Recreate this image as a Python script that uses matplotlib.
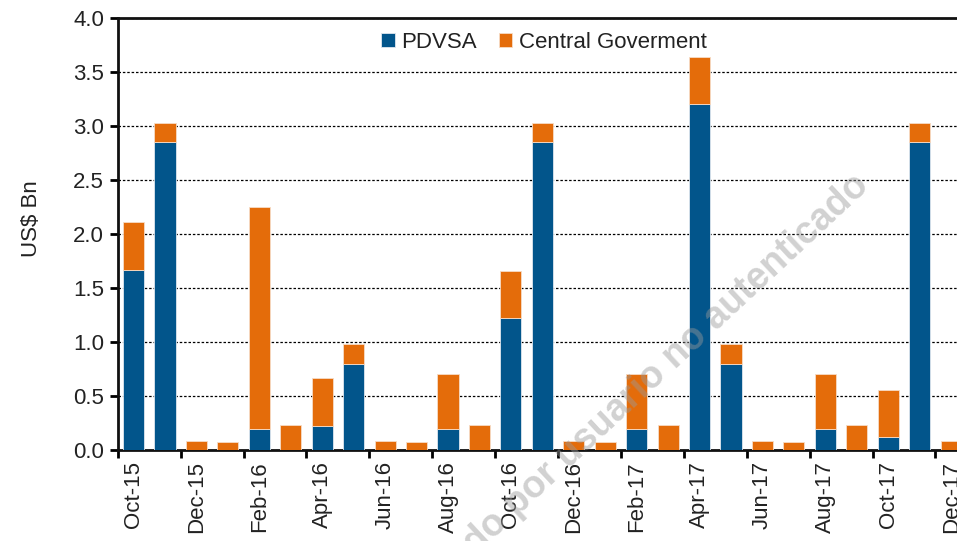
# Stacked monthly bars: PDVSA vs Central Government debt service (US$ Bn)
import numpy as np
from matplotlib import pyplot as plt

plt.rcParams['font.family'] = ['Liberation Sans', 'DejaVu Sans']

months = ["Oct-15", "Nov-15", "Dec-15", "Jan-16", "Feb-16", "Mar-16", "Apr-16",
          "May-16", "Jun-16", "Jul-16", "Aug-16", "Sep-16", "Oct-16", "Nov-16",
          "Dec-16", "Jan-17", "Feb-17", "Mar-17", "Apr-17", "May-17", "Jun-17",
          "Jul-17", "Aug-17", "Sep-17", "Oct-17", "Nov-17", "Dec-17"]
pdvsa = [1.67, 2.85, 0.0, 0.0, 0.19, 0.0, 0.225, 0.80, 0.0, 0.0, 0.19, 0.0,
         1.22, 2.85, 0.0, 0.0, 0.19, 0.0, 3.20, 0.80, 0.0, 0.0, 0.19, 0.0,
         0.12, 2.85, 0.0]
central_gov = [0.44, 0.18, 0.08, 0.07, 2.06, 0.23, 0.44, 0.18, 0.08, 0.07, 0.515, 0.23,
               0.44, 0.18, 0.08, 0.07, 0.515, 0.23, 0.44, 0.18, 0.08, 0.07, 0.515, 0.23,
               0.44, 0.18, 0.08]

blue = "#02558B"
orange = "#E46C0A"

fig = plt.figure(figsize=(9.57, 5.41), dpi=100)
ax = fig.add_axes([0.1231, 0.1682, 0.8872, 0.7985])

x = np.arange(len(months))
ax.bar(x, pdvsa, width=0.67, color=blue, edgecolor="#dfe6ee", linewidth=0.6,
       label="PDVSA", zorder=3)
ax.bar(x, central_gov, width=0.67, bottom=pdvsa, color=orange, edgecolor="#f6dcc6",
       linewidth=0.6, label="Central Goverment", zorder=3)

ax.set_xlim(-0.5, len(months) - 0.5)
ax.set_ylim(0, 4.0)
ax.set_yticks(np.arange(0, 4.01, 0.5))
ax.set_yticklabels([f"{v:.1f}" for v in np.arange(0, 4.01, 0.5)])
ax.yaxis.grid(True, linestyle=(0, (2, 1.5)), color="black", linewidth=0.9, zorder=0)

# ticks at boundaries, labels at bar centres (every other month)
ax.set_xticks(np.arange(-0.5, len(months), 2))
ax.set_xticklabels([])
ax.set_xticks(x[::2], minor=True)
ax.set_xticklabels(months[::2], minor=True, rotation=90)
ax.tick_params(axis="x", which="minor", length=0, pad=8)
ax.tick_params(axis="x", which="major", length=6, width=2, direction="out")
ax.tick_params(axis="y", length=6, width=2, direction="out", pad=4)
ax.tick_params(which="both", labelsize=16, labelcolor="#222222")

for s in ["left", "bottom", "top"]:
    ax.spines[s].set_linewidth(2)
    ax.spines[s].set_color("#111111")
ax.spines["right"].set_visible(False)

ax.set_ylabel("US$ Bn", fontsize=16, color="#222222")
ax.yaxis.set_label_coords(-0.0895, 0.535)

ax.legend(loc="upper center", bbox_to_anchor=(0.502, 1.015), ncol=2, frameon=False,
          fontsize=16, handlelength=0.6, handleheight=0.6, handletextpad=0.3,
          columnspacing=1.0, labelcolor="#222222")

# watermark
fig.text(864 / 957, 1 - 180 / 541, "Documento descargado por usuario no autenticado",
         rotation=43, rotation_mode="anchor", ha="right", va="center",
         fontsize=27, fontweight="bold", color="#9a9a9a", alpha=0.45, zorder=10)

fig.savefig("out.png", dpi=100)
